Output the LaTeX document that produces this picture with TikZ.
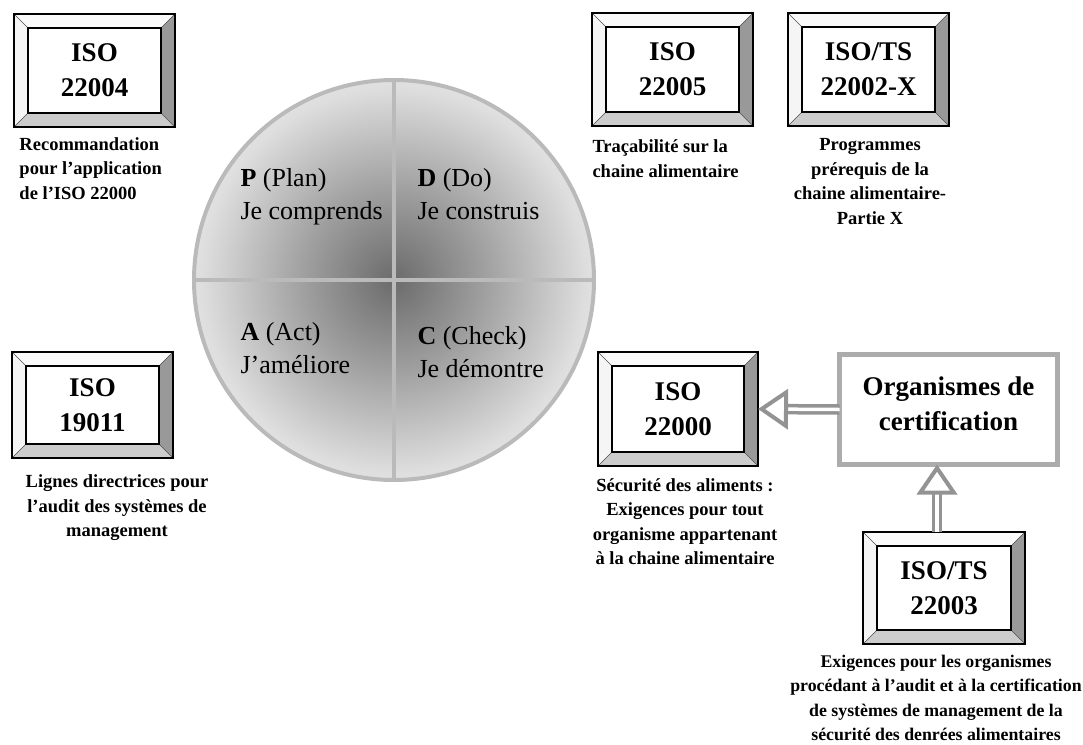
\documentclass[tikz,border=0pt]{standalone}
\usepackage{fontspec}
\setmainfont{Liberation Serif}
\usepackage{tikz}
\usetikzlibrary{arrows.meta}
\pgfdeclareradialshading{pdcafill}{\pgfpoint{0bp}{0bp}}{color(0bp)=(black!58);color(11bp)=(black!38);color(24bp)=(black!13);color(37bp)=(white);color(50bp)=(white)}
\tikzstyle{bevtop}=[fill=gray!4]
\tikzstyle{bevleft}=[fill=gray!8]
\tikzstyle{bevright}=[fill=gray!80]
\tikzstyle{bevbottom}=[fill=gray!40]
\tikzstyle{bevline}=[draw=black,line width=1.3]
\tikzstyle{isolabel}=[inner sep=0,outer sep=0,align=center,font=\bfseries\fontsize{27}{35}\selectfont]
\tikzstyle{desc}=[inner sep=0,font=\bfseries\fontsize{18.5}{24.5}\selectfont]
\tikzstyle{phase}=[inner sep=0,anchor=west,align=left,font=\fontsize{26}{33}\selectfont]
\tikzstyle{certbox}=[draw=gray!65,line width=5,inner sep=0,outer sep=0,align=center,font=\bfseries\fontsize{27}{35}\selectfont]
\tikzstyle{hollow}=[draw=gray!85,line width=3.5,double=white,double distance=3.5,-{Triangle[open,length=30pt,width=40pt,line width=4pt]}]
\newcommand{\isobox}[6]{%
  \fill[bevtop] (#2-#4,#3-#5) -- (#2+#4,#3-#5) -- (#2+#4-14,#3-#5+14) -- (#2-#4+14,#3-#5+14) -- cycle;
  \fill[bevleft] (#2-#4,#3-#5) -- (#2-#4+14,#3-#5+14) -- (#2-#4+14,#3+#5-14) -- (#2-#4,#3+#5) -- cycle;
  \fill[bevright] (#2+#4,#3-#5) -- (#2+#4-14,#3-#5+14) -- (#2+#4-14,#3+#5-14) -- (#2+#4,#3+#5) -- cycle;
  \fill[bevbottom] (#2-#4,#3+#5) -- (#2-#4+14,#3+#5-14) -- (#2+#4-14,#3+#5-14) -- (#2+#4,#3+#5) -- cycle;
  \draw[black!70,line width=0.6] (#2-#4,#3-#5) -- (#2-#4+14,#3-#5+14) (#2+#4,#3-#5) -- (#2+#4-14,#3-#5+14)
    (#2-#4,#3+#5) -- (#2-#4+14,#3+#5-14) (#2+#4,#3+#5) -- (#2+#4-14,#3+#5-14);
  \draw[bevline] (#2-#4+14,#3-#5+14) rectangle (#2+#4-14,#3+#5-14);
  \node[isolabel,minimum width=2*#4,minimum height=2*#5] at (#2,#3) (#1) {#6};
  \draw[bevline] (#1.north west) rectangle (#1.south east);
}
\tikzset{every picture/.style={
    line width=1
  }
}

\begin{document}
\begin{tikzpicture}[x=1pt,y=-1pt]
      \useasboundingbox (0,0) rectangle (1083,744);
      \shade[shading=pdcafill] (394,280) circle (200);
      \draw[gray!54,line width=4] (394,280) circle (200);
      \draw[gray!54,line width=4] (394,80)--(394,480);
      \draw[gray!54,line width=4] (194,280)--(594,280);
      \node[phase] at (240,196) (plan) {\textbf{P} (Plan)\strut\\Je comprends\strut};
      \node[phase] at (417,196) (do) {\textbf{D} (Do)\strut\\Je construis\strut};
      \node[phase] at (240,350) (act) {\textbf{A} (Act)\strut\\J’améliore\strut};
      \node[phase] at (417,354) (check) {\textbf{C} (Check)\strut\\Je démontre\strut};
      \isobox{iso22004}{94.5}{70.5}{80.5}{56.5}{ISO\\22004}
      \isobox{iso22005}{672.5}{69.5}{80.5}{56.5}{ISO\\22005}
      \isobox{ts22002}{868.5}{69.5}{80.5}{56.5}{ISO/TS\\22002-X}
      \isobox{iso19011}{92.5}{405}{80.5}{53}{ISO\\19011}
      \isobox{iso22000}{678}{409}{80}{57}{ISO\\22000}
      \isobox{ts22003}{944}{588}{81}{56}{ISO/TS\\22003}
      \node[certbox,minimum width=218,minimum height=110] at (948.5,409.5) (cert) {Organismes de\\certification\\[-23pt]\mbox{}};
      \node[desc,anchor=west,align=left] at (19,168.5) (d22004) {Recommandation\\pour l’application\\de l’ISO 22000};
      \node[desc,anchor=west,align=left] at (592,158.5) (d22005) {Traçabilité sur la\\chaine alimentaire};
      \node[desc,align=center] at (870,181.5) (d22002) {Programmes\\prérequis de la\\chaine alimentaire-\\Partie X};
      \node[desc,align=center] at (117,508) (d19011) {Lignes directrices pour\\l’audit des systèmes de\\management};
      \node[desc,align=center] at (685,521.5) (d22000) {Sécurité des aliments :\\Exigences pour tout\\organisme appartenant\\à la chaine alimentaire};
      \node[desc,align=center,font=\bfseries\fontsize{17.8}{24.5}\selectfont] at (936,698) (d22003) {Exigences pour les organismes\\procédant à l’audit et à la certification\\de systèmes de management de la\\sécurité des denrées alimentaires};
      \draw[hollow] (cert.west)--(iso22000.east);
      \draw[hollow] (ts22003.north -| 937,0)--(cert.south -| 937,0);
\end{tikzpicture}
\end{document}
